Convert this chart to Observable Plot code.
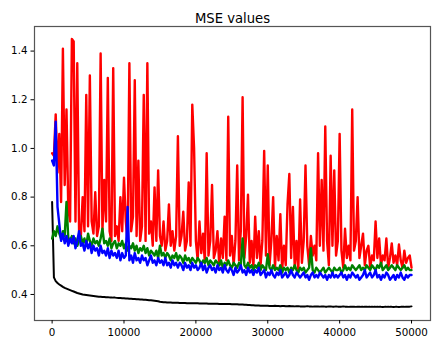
<!DOCTYPE html>
<html><head><meta charset="utf-8">
<script src="https://cdn.jsdelivr.net/npm/d3@7"></script>
<script src="https://cdn.jsdelivr.net/npm/@observablehq/plot@0.6"></script>
<style>body{margin:0;background:#fff}</style>
</head><body><div id="chart"></div>
<script>
const title = "MSE values";
const step = 250; // iterations between logged values
const xTicks = [0, 10000, 20000, 30000, 40000, 50000];
const yTicks = [0.4, 0.6, 0.8, 1.0, 1.2, 1.4];

const blackValues = [
  0.78, 0.47, 0.455, 0.447, 0.441, 0.436, 0.431, 0.427, 0.424, 0.421,
  0.418, 0.415, 0.412, 0.409, 0.406, 0.404, 0.402, 0.400, 0.399, 0.398,
  0.397, 0.396, 0.395, 0.394, 0.393, 0.392, 0.391, 0.391, 0.390, 0.390,
  0.389, 0.389, 0.388, 0.388, 0.387, 0.387, 0.386, 0.385, 0.385, 0.384,
  0.384, 0.383, 0.383, 0.382, 0.382, 0.381, 0.381, 0.380, 0.380, 0.379,
  0.379, 0.378, 0.378, 0.377, 0.376, 0.376, 0.375, 0.374, 0.373, 0.372,
  0.370, 0.369, 0.368, 0.368, 0.367, 0.367, 0.367, 0.366, 0.366, 0.366,
  0.366, 0.365, 0.365, 0.365, 0.365, 0.364, 0.364, 0.364, 0.364, 0.364,
  0.364, 0.364, 0.363, 0.363, 0.363, 0.363, 0.363, 0.362, 0.362, 0.362,
  0.362, 0.362, 0.362, 0.361, 0.361, 0.361, 0.361, 0.361, 0.361, 0.361,
  0.360, 0.360, 0.360, 0.360, 0.359, 0.359, 0.359, 0.358, 0.358, 0.357,
  0.357, 0.356, 0.356, 0.355, 0.355, 0.355, 0.354, 0.354, 0.354, 0.354,
  0.354, 0.353, 0.353, 0.353, 0.354, 0.353, 0.353, 0.352, 0.353, 0.353,
  0.352, 0.352, 0.353, 0.352, 0.352, 0.351, 0.352, 0.352, 0.351, 0.351,
  0.351, 0.351, 0.352, 0.351, 0.351, 0.350, 0.351, 0.351, 0.351, 0.350,
  0.351, 0.351, 0.350, 0.350, 0.351, 0.351, 0.350, 0.350, 0.351, 0.350,
  0.350, 0.350, 0.351, 0.350, 0.350, 0.349, 0.350, 0.350, 0.350, 0.349,
  0.350, 0.350, 0.349, 0.349, 0.350, 0.350, 0.349, 0.349, 0.350, 0.349,
  0.349, 0.350, 0.349, 0.349, 0.348, 0.349, 0.349, 0.350, 0.349, 0.349,
  0.348, 0.349, 0.349, 0.348, 0.349, 0.349, 0.349, 0.350, 0.350, 0.350,
  0.351
];
const redValues = [
  0.98, 0.97, 1.14, 0.90, 1.06, 0.78, 1.41, 0.85, 1.16, 0.75,
  0.70, 1.45, 1.44, 0.70, 1.35, 0.66, 0.64, 0.80, 0.66, 1.22,
  0.68, 1.30, 0.70, 0.65, 0.82, 0.64, 0.68, 1.39, 0.66, 0.87,
  0.70, 1.29, 0.66, 0.62, 1.33, 0.64, 0.68, 0.62, 0.80, 0.66,
  0.88, 0.70, 0.62, 1.35, 0.66, 0.72, 1.28, 0.64, 0.95, 0.62,
  0.68, 1.22, 0.62, 1.35, 0.65, 0.70, 0.60, 0.84, 0.62, 0.91,
  0.64, 0.60, 0.70, 0.58, 0.62, 0.77, 0.60, 0.66, 0.58, 0.64,
  1.05, 0.60, 0.64, 0.74, 0.58, 0.62, 0.86, 0.60, 1.18, 1.00,
  0.62, 0.54, 0.70, 0.57, 0.65, 0.53, 0.98, 0.56, 0.62, 0.85,
  0.55, 0.58, 0.66, 0.52, 0.63, 0.55, 0.72, 0.54, 1.13, 0.56,
  0.64, 0.52, 0.62, 0.93, 0.54, 0.66, 1.21, 0.55, 0.64, 0.81,
  0.53, 0.62, 0.51, 0.72, 0.55, 0.66, 0.52, 0.62, 0.99, 0.56,
  0.93, 0.52, 0.62, 0.80, 0.51, 0.64, 0.54, 0.73, 0.50, 0.60,
  0.52, 0.77, 0.895, 0.55, 0.76, 0.51, 0.62, 0.50, 0.79, 0.53,
  0.62, 0.93, 0.60, 0.52, 0.64, 0.56, 0.60, 0.54, 0.98, 0.60,
  0.87, 0.58, 1.09, 0.62, 0.52, 0.97, 0.60, 0.91, 0.56, 0.62,
  1.06, 0.58, 0.51, 0.67, 0.55, 0.60, 0.54, 1.16, 0.58, 0.62,
  0.80, 0.55, 0.60, 0.65, 0.52, 0.58, 0.60, 0.51, 0.56, 0.54,
  0.70, 0.55, 0.63, 0.52, 0.56, 0.54, 0.63, 0.51, 0.55, 0.61,
  0.53, 0.56, 0.52, 0.605, 0.54, 0.51, 0.58, 0.53, 0.55, 0.56,
  0.51
];
const greenValues = [
  0.63, 0.66, 0.64, 0.68, 0.65, 0.63, 0.66, 0.64, 0.78, 0.63,
  0.62, 0.64, 0.61, 0.63, 0.60, 0.62, 0.64, 0.61, 0.63, 0.60,
  0.65, 0.62, 0.60, 0.63, 0.61, 0.62, 0.60, 0.63, 0.67, 0.61,
  0.62, 0.60, 0.63, 0.59, 0.61, 0.62, 0.59, 0.61, 0.60, 0.62,
  0.59, 0.61, 0.58, 0.60, 0.59, 0.61, 0.58, 0.60, 0.57, 0.59,
  0.58, 0.60, 0.57, 0.59, 0.56, 0.58, 0.57, 0.56, 0.58, 0.55,
  0.60, 0.56, 0.57, 0.55, 0.57, 0.56, 0.54, 0.56, 0.55, 0.57,
  0.54, 0.56, 0.55, 0.53, 0.56, 0.54, 0.55, 0.53, 0.55, 0.54,
  0.53, 0.55, 0.54, 0.52, 0.54, 0.53, 0.55, 0.52, 0.54, 0.53,
  0.52, 0.54, 0.53, 0.52, 0.54, 0.51, 0.53, 0.52, 0.54, 0.52,
  0.51, 0.53, 0.52, 0.51, 0.53, 0.52, 0.63, 0.52, 0.51, 0.53,
  0.51, 0.52, 0.50, 0.52, 0.51, 0.53, 0.50, 0.52, 0.51, 0.50,
  0.565, 0.51, 0.50, 0.52, 0.50, 0.51, 0.50, 0.52, 0.49, 0.51,
  0.50, 0.51, 0.49, 0.51, 0.50, 0.52, 0.50, 0.49, 0.51, 0.50,
  0.51, 0.49, 0.50, 0.51, 0.59, 0.50, 0.49, 0.51, 0.50, 0.49,
  0.50, 0.51, 0.49, 0.50, 0.51, 0.50, 0.49, 0.51, 0.50, 0.50,
  0.51, 0.49, 0.50, 0.52, 0.50, 0.51, 0.50, 0.52, 0.51, 0.50,
  0.51, 0.52, 0.50, 0.51, 0.50, 0.52, 0.51, 0.50, 0.52, 0.51,
  0.50, 0.52, 0.51, 0.53, 0.50, 0.51, 0.52, 0.50, 0.51, 0.52,
  0.51, 0.50, 0.52, 0.51, 0.50, 0.51, 0.52, 0.50, 0.51, 0.50,
  0.50
];
const blueValues = [
  0.95, 0.93, 1.11, 0.76, 0.69, 0.62, 0.65, 0.61, 0.64, 0.60,
  0.63, 0.61, 0.64, 0.59, 0.62, 0.66, 0.60, 0.61, 0.58, 0.62,
  0.59, 0.61, 0.57, 0.60, 0.58, 0.59, 0.56, 0.60, 0.57, 0.58,
  0.56, 0.59, 0.55, 0.58, 0.56, 0.57, 0.55, 0.58, 0.54, 0.57,
  0.55, 0.56, 0.76, 0.54, 0.56, 0.53, 0.57, 0.54, 0.55, 0.53,
  0.56, 0.54, 0.55, 0.52, 0.54, 0.56, 0.53, 0.54, 0.52, 0.55,
  0.53, 0.54, 0.52, 0.55, 0.52, 0.53, 0.51, 0.54, 0.52, 0.53,
  0.51, 0.53, 0.52, 0.50, 0.53, 0.51, 0.52, 0.50, 0.53, 0.51,
  0.52, 0.50, 0.51, 0.53, 0.50, 0.52, 0.49, 0.51, 0.52, 0.50,
  0.51, 0.49, 0.52, 0.50, 0.51, 0.49, 0.52, 0.50, 0.49, 0.51,
  0.50, 0.48, 0.51, 0.49, 0.50, 0.52, 0.49, 0.50, 0.48, 0.51,
  0.49, 0.50, 0.48, 0.50, 0.49, 0.51, 0.48, 0.49, 0.50, 0.47,
  0.49, 0.48, 0.50, 0.48, 0.47, 0.49, 0.48, 0.50, 0.47, 0.48,
  0.49, 0.47, 0.48, 0.50, 0.48, 0.47, 0.49, 0.48, 0.47, 0.48,
  0.49, 0.47, 0.48, 0.46, 0.48, 0.49, 0.47, 0.48, 0.47, 0.49,
  0.48, 0.47, 0.48, 0.46, 0.48, 0.47, 0.49, 0.47, 0.48, 0.47,
  0.48, 0.49, 0.47, 0.48, 0.46, 0.48, 0.47, 0.49, 0.48, 0.47,
  0.48, 0.46, 0.47, 0.48, 0.50, 0.47, 0.48, 0.49, 0.47, 0.48,
  0.50, 0.47, 0.48, 0.46, 0.48, 0.47, 0.49, 0.48, 0.46, 0.47,
  0.48, 0.46, 0.48, 0.47, 0.49, 0.47, 0.46, 0.48, 0.47, 0.48,
  0.48
];

const series = [
  {values: blackValues, color: "#000000", width: 2},
  {values: redValues, color: "#ff0000", width: 2.4},
  {values: greenValues, color: "#008000", width: 2.4},
  {values: blueValues, color: "#0000ff", width: 2.4}
];

const chart = Plot.plot({
  width: 440,
  height: 347,
  marginLeft: 34,
  marginRight: 10,
  marginTop: 26,
  marginBottom: 27,
  x: {domain: [-2450, 52640]},
  y: {domain: [0.293, 1.501]},
  style: {fontFamily: "DejaVu Sans", fontSize: "10.3px", color: "#000", background: "#fff"},
  marks: [
    ...series.map(s => Plot.lineY(s.values, {
      x: (d, i) => i * step, y: d => d, stroke: s.color, strokeWidth: s.width
    })),
    Plot.frame({stroke: "#555", strokeWidth: 1.2}),
    Plot.axisX({ticks: xTicks, tickFormat: "d", tickSize: 3.5, tickPadding: 5, label: null}),
    Plot.axisY({ticks: yTicks, tickFormat: d3.format(".1f"), tickSize: 3.5, tickPadding: 3.5, label: null}),
    Plot.text([title], {frameAnchor: "top", dy: -12.5, fontSize: 13.2})
  ]
});
document.getElementById("chart").append(chart);
</script>
</body></html>
